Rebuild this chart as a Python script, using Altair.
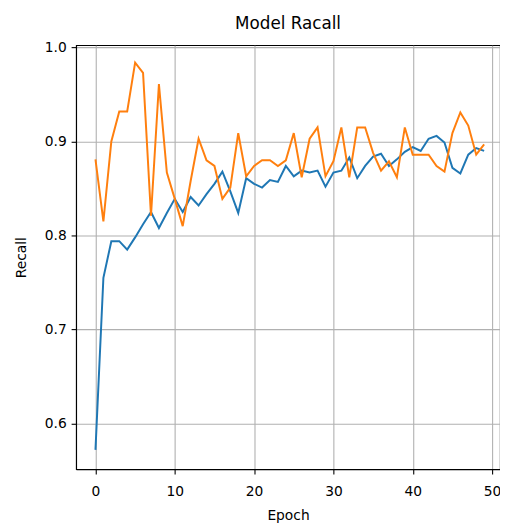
import altair as alt
import pandas as pd

epochs = list(range(50))
recall = [0.572, 0.755, 0.794, 0.794, 0.785, 0.798, 0.812, 0.825, 0.808, 0.824,
          0.839, 0.825, 0.841, 0.832, 0.844, 0.855, 0.868, 0.847, 0.824, 0.861,
          0.855, 0.851, 0.859, 0.857, 0.874, 0.863, 0.869, 0.867, 0.869, 0.852,
          0.867, 0.869, 0.883, 0.861, 0.874, 0.884, 0.887, 0.874, 0.881, 0.889,
          0.894, 0.890, 0.903, 0.906, 0.899, 0.872, 0.866, 0.886, 0.893, 0.890]
val_recall = [0.881, 0.815, 0.900, 0.932, 0.932, 0.984, 0.973, 0.821, 0.961, 0.867,
              0.839, 0.810, 0.858, 0.903, 0.880, 0.874, 0.839, 0.851, 0.909, 0.863,
              0.874, 0.880, 0.880, 0.874, 0.880, 0.909, 0.862, 0.903, 0.915, 0.863,
              0.879, 0.915, 0.862, 0.915, 0.915, 0.888, 0.869, 0.879, 0.862, 0.915,
              0.886, 0.886, 0.886, 0.874, 0.868, 0.909, 0.931, 0.917, 0.886, 0.897]
series_names = ["recall", "val_recall"]
series_colors = ["#1f77b4", "#ff7f0e"]
x_ticks = [0, 10, 20, 30, 40, 50]
y_ticks = [0.6, 0.7, 0.8, 0.9, 1.0]

df = pd.DataFrame({
    "epoch": epochs * 2,
    "value": recall + val_recall,
    "series": [series_names[0]] * 50 + [series_names[1]] * 50,
})

FONT = "DejaVu Sans"

chart = alt.Chart(df).mark_line(strokeWidth=2).encode(
    x=alt.X("epoch:Q",
            scale=alt.Scale(domain=[-2.45, 51.0], nice=False, zero=False),
            axis=alt.Axis(values=x_ticks, title="Epoch", labelPadding=11,
                          titlePadding=10, format="d")),
    y=alt.Y("value:Q",
            scale=alt.Scale(domain=[0.5515, 1.0025], nice=False, zero=False),
            axis=alt.Axis(values=y_ticks, title="Recall", format=".1f",
                          labelPadding=5, titlePadding=16)),
    color=alt.Color("series:N",
                    scale=alt.Scale(domain=series_names, range=series_colors),
                    legend=None),
).properties(
    width=430,
    height=430,
    background="white",
    title=alt.TitleParams("Model Racall", fontSize=17, font=FONT,
                          fontWeight="normal", color="black", offset=8,
                          anchor="middle"),
    autosize=alt.AutoSizeParams(type="none"),
    padding={"left": 69, "top": 34, "right": 0, "bottom": 55},
).configure_view(
    stroke="black", strokeWidth=1.1
).configure_axis(
    grid=True, gridColor="#b0b0b0", gridWidth=1.1,
    domainColor="black", domainWidth=1.1,
    tickColor="black", tickSize=5, tickWidth=1.1,
    labelFont=FONT, labelFontSize=14, labelColor="black",
    titleFont=FONT, titleFontSize=14, titleFontWeight="normal", titleColor="black",
)

chart.save("out.html", embed_options={"renderer": "svg", "actions": False})
